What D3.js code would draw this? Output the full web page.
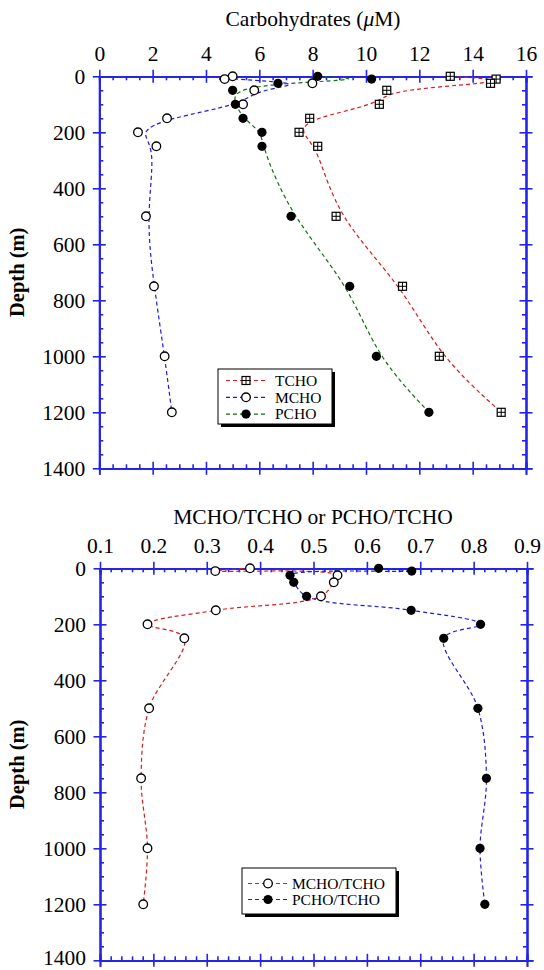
<!DOCTYPE html>
<html><head><meta charset="utf-8">
<script src="https://cdn.jsdelivr.net/npm/d3@7/dist/d3.min.js"></script>
<style>
body{margin:0;background:#fff}
text{font-family:"Liberation Serif","Times New Roman",serif;fill:#000}
</style>
</head><body>
<svg id="chart" width="544" height="970"></svg>
<script>
// ---------- data ----------
const depths = [0, 10, 25, 50, 100, 150, 200, 250, 500, 750, 1000, 1200];
const tcho = [13.16, 14.88, 14.67, 10.78, 10.50, 7.89, 7.49, 8.19, 8.88, 11.37, 12.75, 15.07];
const mcho = [5.00, 4.70, 7.99, 5.81, 5.39, 2.54, 1.45, 2.14, 1.75, 2.05, 2.45, 2.72];
const pcho = [8.19, 10.21, 6.70, 5.00, 5.10, 5.39, 6.10, 6.10, 7.19, 9.39, 10.39, 12.36];
const mchoRatio = [0.381, 0.316, 0.545, 0.538, 0.514, 0.317, 0.189, 0.258, 0.192, 0.177, 0.189, 0.181];
const pchoRatio = [0.622, 0.684, 0.456, 0.463, 0.487, 0.683, 0.813, 0.744, 0.808, 0.824, 0.812, 0.821];
const carbTicks = [0, 2, 4, 6, 8, 10, 12, 14, 16];
const ratioTicks = [0.1, 0.2, 0.3, 0.4, 0.5, 0.6, 0.7, 0.8, 0.9];
const depthTicks = [0, 200, 400, 600, 800, 1000, 1200, 1400];

const AXIS = "#2424e6";
const RED = "#dd1a1a", BLUE = "#1a1aee", GREEN = "#146e14";

const svg = d3.select("#chart");

function marker(g, type, x, y) {
  if (type === "square") {
    const s = 8;
    g.append("rect").attr("x", x - s/2).attr("y", y - s/2).attr("width", s).attr("height", s)
      .attr("fill", "#fff").attr("stroke", "#000").attr("stroke-width", 1.2);
    g.append("line").attr("x1", x - s/2).attr("x2", x + s/2).attr("y1", y).attr("y2", y)
      .attr("stroke", "#000").attr("stroke-width", 1);
    g.append("line").attr("x1", x).attr("x2", x).attr("y1", y - s/2).attr("y2", y + s/2)
      .attr("stroke", "#000").attr("stroke-width", 1);
  } else if (type === "open") {
    g.append("circle").attr("cx", x).attr("cy", y).attr("r", 4.3)
      .attr("fill", "#fff").attr("stroke", "#000").attr("stroke-width", 1.3);
  } else {
    g.append("circle").attr("cx", x).attr("cy", y).attr("r", 4.6).attr("fill", "#000");
  }
}

function panel(cfg) {
  const x = d3.scaleLinear().domain(cfg.xDomain).range([cfg.left, cfg.right]);
  const y = d3.scaleLinear().domain([0, 1400]).range([cfg.top, cfg.bottom]);
  const g = svg.append("g");
  const MAJ = 6.5, MIN = 4;
  const yMinor = d3.range(50, 1400, 50).filter(v => v % 200);

  const styleAxis = sel => {
    sel.selectAll("path,line").attr("stroke", AXIS).attr("stroke-width", 1.6);
    sel.select(".domain").attr("stroke-width", 1.8);
  };
  const noLabels = sel => sel.selectAll("text").remove();
  const labelStyle = s => s.selectAll("text").attr("font-size", 21.5)
    .attr("font-family", "Liberation Serif").attr("fill", "#000");

  // top axis with labels
  g.append("g").attr("transform", `translate(0,${cfg.top})`)
    .call(d3.axisTop(x).tickValues(cfg.xTicks).tickSizeInner(MAJ).tickSizeOuter(0).tickPadding(8.5)
      .tickFormat(cfg.xFmt))
    .call(styleAxis).call(labelStyle);
  g.append("g").attr("transform", `translate(0,${cfg.top})`)
    .call(d3.axisTop(x).tickValues(cfg.xTicks).tickSize(-MAJ)).call(styleAxis).call(noLabels);
  g.append("g").attr("transform", `translate(0,${cfg.top})`)
    .call(d3.axisTop(x).tickValues(cfg.xMinor).tickSize(-MIN)).call(styleAxis).call(noLabels);
  // bottom axis
  g.append("g").attr("transform", `translate(0,${cfg.bottom})`)
    .call(d3.axisBottom(x).tickValues(cfg.xTicks).tickSize(MAJ)).call(styleAxis).call(noLabels);
  g.append("g").attr("transform", `translate(0,${cfg.bottom})`)
    .call(d3.axisBottom(x).tickValues(cfg.xTicks).tickSize(-MAJ)).call(styleAxis).call(noLabels);
  g.append("g").attr("transform", `translate(0,${cfg.bottom})`)
    .call(d3.axisBottom(x).tickValues(cfg.xMinor).tickSize(-MIN)).call(styleAxis).call(noLabels);
  // left axis with labels
  g.append("g").attr("transform", `translate(${cfg.left},0)`)
    .call(d3.axisLeft(y).tickValues(depthTicks).tickSizeInner(MAJ).tickSizeOuter(0).tickPadding(7.5)
      .tickFormat(d3.format("d")))
    .call(styleAxis).call(labelStyle)
    .call(s => { if (cfg.lastLabelDy) s.selectAll("text").filter(d => d === 1400).attr("dy", cfg.lastLabelDy); });
  g.append("g").attr("transform", `translate(${cfg.left},0)`)
    .call(d3.axisLeft(y).tickValues(depthTicks).tickSize(-MAJ)).call(styleAxis).call(noLabels);
  g.append("g").attr("transform", `translate(${cfg.left},0)`)
    .call(d3.axisLeft(y).tickValues(yMinor).tickSize(-MIN)).call(styleAxis).call(noLabels);
  // right axis
  g.append("g").attr("transform", `translate(${cfg.right},0)`)
    .call(d3.axisRight(y).tickValues(depthTicks).tickSize(MAJ)).call(styleAxis).call(noLabels);
  g.append("g").attr("transform", `translate(${cfg.right},0)`)
    .call(d3.axisRight(y).tickValues(depthTicks).tickSize(-MAJ)).call(styleAxis).call(noLabels);
  g.append("g").attr("transform", `translate(${cfg.right},0)`)
    .call(d3.axisRight(y).tickValues(yMinor).tickSize(-MIN)).call(styleAxis).call(noLabels);

  // titles
  g.append("text").attr("x", 313).attr("y", cfg.titleY).attr("text-anchor", "middle")
    .attr("font-size", 21.5).html(cfg.title);
  g.append("text").attr("transform", `translate(24,${(cfg.top + cfg.bottom) / 2}) rotate(-90)`)
    .attr("text-anchor", "middle").attr("font-size", 20.5).attr("font-weight", "bold").text("Depth (m)");

  // series lines
  const line = d3.line().x(d => x(d[0])).y(d => y(d[1])).curve(cfg.curve);
  cfg.series.forEach(s => {
    const pts = s.values.map((v, i) => [v, depths[i]]);
    g.append("path").attr("d", line(pts)).attr("fill", "none").attr("stroke", s.color)
      .attr("stroke-width", 1.2).attr("stroke-dasharray", "4,3");
  });
  cfg.series.forEach(s => {
    const mg = g.append("g");
    s.values.forEach((v, i) => marker(mg, s.marker, x(v), y(depths[i])));
  });

  // legend
  const L = cfg.legend;
  const lg = g.append("g");
  lg.append("rect").attr("x", L.x + 3).attr("y", L.y + 3).attr("width", L.w).attr("height", L.h).attr("fill", "#000");
  lg.append("rect").attr("x", L.x).attr("y", L.y).attr("width", L.w).attr("height", L.h)
    .attr("fill", "#fff").attr("stroke", "#000").attr("stroke-width", 1);
  cfg.series.forEach((s, i) => {
    const ry = L.y + L.row0 + i * L.dy;
    lg.append("line").attr("x1", L.x + L.lx0).attr("x2", L.x + L.lx1).attr("y1", ry).attr("y2", ry)
      .attr("stroke", s.color).attr("stroke-width", 1.2).attr("stroke-dasharray", "4,3");
    marker(lg, s.marker, L.x + (L.lx0 + L.lx1) / 2, ry);
    lg.append("text").attr("x", L.x + L.tx).attr("y", ry + 5.3).attr("font-size", 15.5).text(s.name);
  });
}

panel({
  left: 99.3, right: 526, top: 76.3, bottom: 468.3,
  xDomain: [0, 16], xTicks: carbTicks, xMinor: d3.range(0.5, 16, 0.5).filter(v => v % 2),
  xFmt: d3.format("d"),
  title: "Carbohydrates (<tspan font-style='italic'>\u03bc</tspan>M)", titleY: 26,
  curve: d3.curveBasis,
  series: [
    {name: "TCHO", values: tcho, color: RED, marker: "square"},
    {name: "MCHO", values: mcho, color: BLUE, marker: "open"},
    {name: "PCHO", values: pcho, color: GREEN, marker: "filled"}
  ],
  legend: {x: 218, y: 369, w: 114, h: 55, row0: 11.5, dy: 16.8, lx0: 8, lx1: 48, tx: 57}
});

panel({
  left: 100, right: 527, top: 568.3, bottom: 960.3,
  xDomain: [0.1, 0.9], xTicks: ratioTicks,
  xMinor: d3.range(1, 9).flatMap(k => [0.02, 0.04, 0.06, 0.08].map(o => +(k / 10 + o).toFixed(2))),
  xFmt: d3.format(".1f"),
  title: "MCHO/TCHO or PCHO/TCHO", titleY: 524,
  curve: d3.curveCatmullRom,
  lastLabelDy: "0.2em",
  series: [
    {name: "MCHO/TCHO", values: mchoRatio, color: RED, marker: "open"},
    {name: "PCHO/TCHO", values: pchoRatio, color: BLUE, marker: "filled"}
  ],
  legend: {x: 242, y: 868, w: 154, h: 46, row0: 15.5, dy: 16, lx0: 6, lx1: 46, tx: 50}
});
</script>
</body></html>
